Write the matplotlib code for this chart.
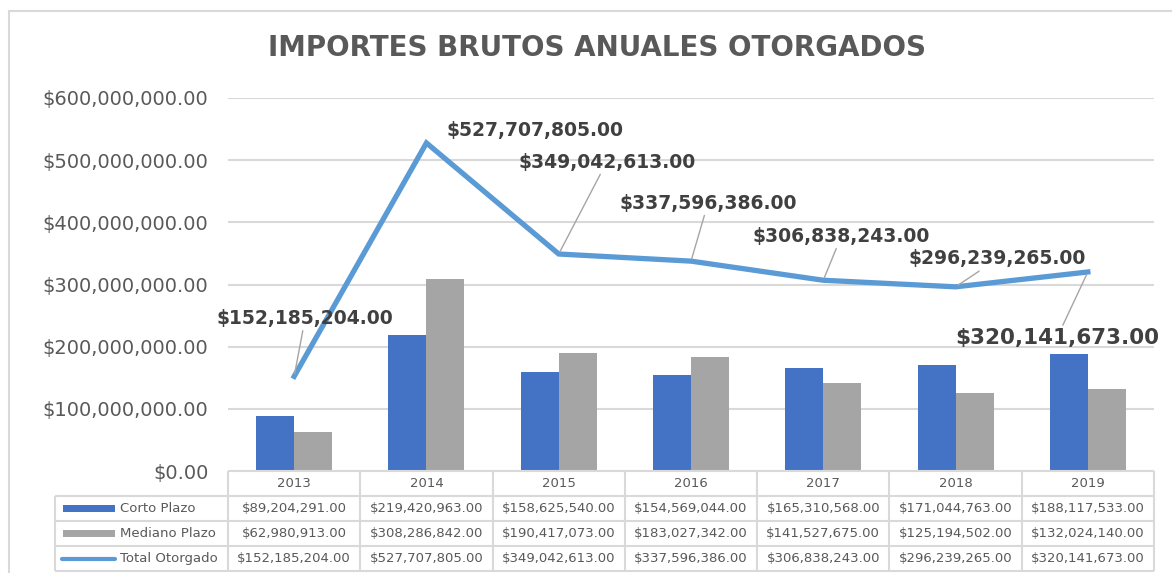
import matplotlib
matplotlib.use('Agg')
import matplotlib.pyplot as plt
from matplotlib import patches

W, H = 1172, 573

years = ['2013', '2014', '2015', '2016', '2017', '2018', '2019']
corto = [89204291, 219420963, 158625540, 154569044, 165310568, 171044763, 188117533]
mediano = [62980913, 308286842, 190417073, 183027342, 141527675, 125194502, 132024140]
total = [152185204, 527707805, 349042613, 337596386, 306838243, 296239265, 320141673]
series_names = ['Corto Plazo', 'Mediano Plazo', 'Total Otorgado']

# label offsets in pixels from each point (dx, dy), None = no leader
label_offsets = [(11, 58), (109, 12), (48, 92), (17, 58), (18, 44), (42, 28), (-31, -66)]
leaders = [True, False, True, True, True, True, True]

BLUE = '#4472c4'
GRAY = '#a5a5a5'
LINE = '#5b9bd5'
GRID = '#d9d9d9'
TXT = '#595959'


def money(v):
    return '${:,.2f}'.format(v)


def main():
    fig = plt.figure(figsize=(W / 100, H / 100), dpi=100)
    fig.patches.append(patches.Rectangle((9 / W, -0.05), 1.2, (H - 11) / H + 0.05,
                                         transform=fig.transFigure, fill=False,
                                         ec=GRID, lw=1.5))

    ax = fig.add_axes([228 / W, 102 / H, 926 / W, 373 / H])
    x = list(range(len(years)))
    bw = 0.287
    ax.bar([i - bw / 2 for i in x], corto, bw, color=BLUE, zorder=2)
    ax.bar([i + bw / 2 for i in x], mediano, bw, color=GRAY, zorder=2)
    ax.plot(x, total, color=LINE, lw=3.8, zorder=3, solid_joinstyle='miter')

    ax.set_xlim(-0.5, len(years) - 0.5)
    ax.set_ylim(0, 600000000)
    ax.set_yticks(range(0, 600000001, 100000000))
    ax.set_yticklabels([money(v) for v in range(0, 600000001, 100000000)],
                       fontsize=14, color=TXT)
    ax.tick_params(axis='y', length=0, pad=14)
    ax.set_xticks([])
    ax.grid(axis='y', color=GRID, lw=1.5, zorder=0)
    for s in ax.spines.values():
        s.set_visible(False)

    for i, v in enumerate(total):
        dx, dy = label_offsets[i]
        fs = 15.5 if i == len(total) - 1 else 13.5
        props = dict(arrowstyle='-', color=GRAY, lw=1, shrinkA=0, shrinkB=2) if leaders[i] else None
        ax.annotate(money(v), (i, v), xytext=(dx, dy), textcoords='offset pixels',
                    ha='center', va='center', fontsize=fs, fontweight='bold',
                    color='#404040', arrowprops=props, zorder=4)

    fig.text(0.509, (H - 48) / H, 'IMPORTES BRUTOS ANUALES OTORGADOS',
             ha='center', va='center', fontsize=20, fontweight='bold', color=TXT)

    # data table under the plot
    leg_w = 173 / 132.3
    tax = fig.add_axes([55 / W, 2 / H, 1099 / W, 100 / H])
    x0 = -0.5 - leg_w
    x1 = len(years) - 0.5
    tax.set_xlim(x0, x1)
    tax.set_ylim(0, 4)
    tax.axis('off')
    kw = dict(color=GRID, lw=1.5, solid_capstyle='butt', clip_on=False)
    tax.plot([-0.5, x1], [4, 4], **kw)
    for yy in [3, 2, 1, 0]:
        tax.plot([x0, x1], [yy, yy], **kw)
    for k in range(len(years) + 1):
        tax.plot([k - 0.5, k - 0.5], [0, 4], **kw)
    tax.plot([x0, x0], [0, 3], **kw)

    for i, yr in enumerate(years):
        tax.text(i, 3.5, yr, ha='center', va='center', fontsize=9.5, color=TXT)
    for r, vals in enumerate([corto, mediano, total]):
        yc = 2.5 - r
        for i, v in enumerate(vals):
            tax.text(i, yc, money(v), ha='center', va='center', fontsize=9.5, color=TXT)
        tax.text(x0 + 0.495, yc, series_names[r], ha='left', va='center',
                 fontsize=9.5, color=TXT)

    tax.add_patch(patches.Rectangle((x0 + 0.06, 2.36), 0.39, 0.28, color=BLUE, lw=0))
    tax.add_patch(patches.Rectangle((x0 + 0.06, 1.36), 0.39, 0.28, color=GRAY, lw=0))
    tax.plot([x0 + 0.055, x0 + 0.45], [0.5, 0.5], color=LINE, lw=3, solid_capstyle='round')

    fig.savefig('out.png', dpi=100)


if __name__ == '__main__':
    main()
